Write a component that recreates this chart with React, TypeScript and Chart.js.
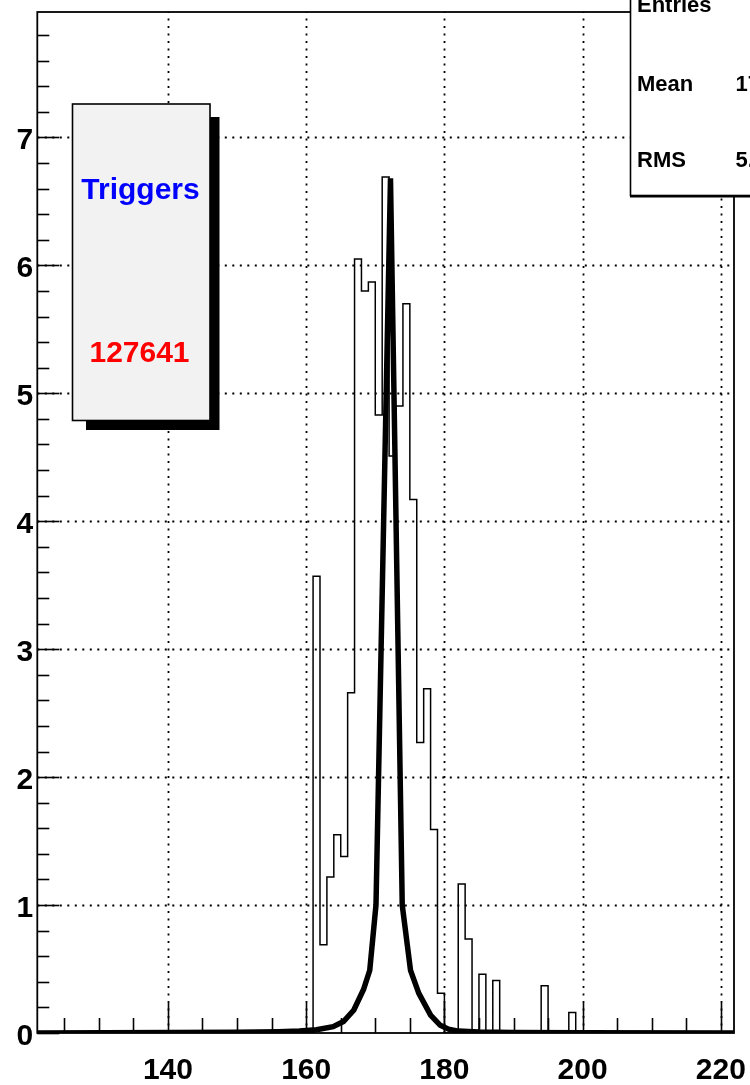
import React, { useEffect, useRef } from "react";
import { Chart, registerables } from "chart.js";

Chart.register(...registerables);

// ---- axis ranges & tick labels ----
const X_MIN = 121.1;
const X_MAX = 221.9;
const Y_MIN = 0;
const Y_MAX = 7.98;
const xTickLabels = [140, 160, 180, 200, 220];
const yTickLabels = [0, 1, 2, 3, 4, 5, 6, 7];

// ---- histogram (bins of width 1, first bin lower edge = 160) ----
const histFirstBinLow = 160;
const histCounts = [
  0, 3.57, 0.69, 1.22, 1.55, 1.38, 2.66, 6.05, 5.8, 5.87,
  4.83, 6.69, 4.51, 4.9, 5.7, 4.17, 2.27, 2.69, 1.59, 0.31,
  0, 0, 1.165, 0.735, 0, 0.46, 0, 0.41, 0, 0,
  0, 0, 0, 0, 0.37, 0, 0, 0, 0.16, 0,
];

// ---- fitted curve ----
const fitX = [121.1, 150, 156, 159, 161.5, 163.9, 165.4, 166.9, 168.3, 169.2, 170.1, 172.2, 173.9, 175.1, 176.3, 178.0, 179.4, 180.6, 182, 185, 190, 200, 221.9];
const fitY = [0, 0.005, 0.01, 0.015, 0.025, 0.05, 0.09, 0.18, 0.34, 0.49, 1.0, 6.68, 1.0, 0.49, 0.31, 0.14, 0.06, 0.03, 0.015, 0.008, 0.004, 0.002, 0];

// ---- text boxes ----
const triggersTitle = "Triggers";
const triggersValue = "127641";
const statsLabels = ["Entries", "Mean", "RMS"];
const statsValues = ["130", "171.9", "5.248"];

const FONT = '"Liberation Sans", Arial, Helvetica, sans-serif';

const rootPlugin = {
  id: "rootStyle",
  beforeDatasetsDraw(chart: any) {
    const { ctx, chartArea: a, scales } = chart;
    const xs = scales.x;
    const ys = scales.y;
    ctx.save();
    ctx.strokeStyle = "#000";

    // dotted grid
    ctx.lineWidth = 1.8;
    ctx.setLineDash([2, 5.5]);
    for (const v of xTickLabels) {
      const px = Math.round(xs.getPixelForValue(v)) + 0.5;
      ctx.beginPath();
      ctx.moveTo(px, a.bottom);
      ctx.lineTo(px, a.top);
      ctx.stroke();
    }
    for (const v of yTickLabels) {
      if (v === 0) continue;
      const py = Math.round(ys.getPixelForValue(v)) + 0.5;
      ctx.beginPath();
      ctx.moveTo(a.left, py);
      ctx.lineTo(a.right, py);
      ctx.stroke();
    }
    ctx.setLineDash([]);

    // ticks (inside the frame)
    ctx.lineWidth = 1.6;
    for (let v = 125; v <= X_MAX; v += 5) {
      const px = Math.round(xs.getPixelForValue(v)) + 0.5;
      const major = v % 20 === 0;
      ctx.beginPath();
      ctx.moveTo(px, a.bottom);
      ctx.lineTo(px, a.bottom - (major ? 30 : 15));
      ctx.stroke();
    }
    for (let i = 0; i <= 39; i++) {
      const v = i * 0.2;
      const py = Math.round(ys.getPixelForValue(v)) + 0.5;
      const major = i % 5 === 0;
      ctx.beginPath();
      ctx.moveTo(a.left, py);
      ctx.lineTo(a.left + (major ? 22 : 12), py);
      ctx.stroke();
    }

    // frame
    ctx.lineWidth = 1.8;
    ctx.strokeRect(a.left, a.top, a.right - a.left, a.bottom - a.top);
    ctx.restore();
  },
  afterDraw(chart: any) {
    const { ctx } = chart;
    ctx.save();

    // Triggers pave with shadow
    ctx.fillStyle = "#000";
    ctx.fillRect(86, 117, 133.5, 313);
    ctx.fillStyle = "#f2f2f2";
    ctx.fillRect(72.5, 104, 137.5, 316.5);
    ctx.strokeStyle = "#000";
    ctx.lineWidth = 1.6;
    ctx.strokeRect(72.5, 104, 137.5, 316.5);
    ctx.textAlign = "center";
    ctx.textBaseline = "alphabetic";
    ctx.font = `bold 30px ${FONT}`;
    ctx.fillStyle = "#0000ff";
    ctx.fillText(triggersTitle, 140.5, 199);
    ctx.fillStyle = "#ff0000";
    ctx.fillText(triggersValue, 139.5, 361.5);

    // stats box (top-right, partly outside the canvas)
    ctx.fillStyle = "#000";
    ctx.fillRect(630, 194.5, 140, 3);
    ctx.fillStyle = "#fff";
    ctx.fillRect(630, -20, 140, 215);
    ctx.strokeStyle = "#000";
    ctx.lineWidth = 1.6;
    ctx.strokeRect(630.5, -20, 140, 215.5);
    ctx.fillStyle = "#000";
    ctx.font = `bold 22px ${FONT}`;
    ctx.textAlign = "left";
    const baselines = [12, 91, 167];
    statsLabels.forEach((t, i) => ctx.fillText(t, 637, baselines[i]));
    ctx.textAlign = "right";
    statsValues.forEach((t, i) => {
      ctx.fillText(t, 790.5, baselines[i]);
    });
    ctx.restore();
  },
};

export default function App() {
  const ref = useRef<HTMLCanvasElement | null>(null);

  useEffect(() => {
    const canvas = ref.current;
    if (!canvas) return;

    const histData: { x: number; y: number }[] = [{ x: X_MIN, y: 0 }];
    histCounts.forEach((c, i) => histData.push({ x: histFirstBinLow + i, y: c }));
    histData.push({ x: histFirstBinLow + histCounts.length, y: 0 });
    histData.push({ x: X_MAX, y: 0 });

    const fitData = fitX.map((x, i) => ({ x, y: fitY[i] }));

    const chart = new Chart(canvas, {
      type: "line",
      data: {
        datasets: [
          {
            label: "fit",
            data: fitData,
            borderColor: "#000",
            borderWidth: 5.5,
            pointRadius: 0,
            tension: 0,
            fill: false,
            order: 0,
          },
          {
            label: "hist",
            data: histData,
            borderColor: "#000",
            borderWidth: 1.5,
            pointRadius: 0,
            stepped: true,
            fill: false,
            order: 1,
          },
        ],
      },
      options: {
        responsive: false,
        animation: false,
        devicePixelRatio: 1,
        events: [],
        layout: { padding: { top: 12, right: 16, left: 0, bottom: 0 } },
        plugins: {
          legend: { display: false },
          tooltip: { enabled: false },
          title: { display: false },
        },
        scales: {
          x: {
            type: "linear",
            min: X_MIN,
            max: X_MAX,
            grid: { display: false, drawTicks: false },
            border: { display: false },
            afterBuildTicks: (s: any) => {
              s.ticks = xTickLabels.map((v) => ({ value: v }));
            },
            afterFit: (s: any) => {
              s.height = 52;
              s.paddingLeft = 0;
              s.paddingRight = 0;
            },
            ticks: {
              font: { family: FONT, size: 30, weight: "bold" },
              color: "#000",
              padding: 20,
              maxRotation: 0,
              autoSkip: false,
            },
          },
          y: {
            type: "linear",
            min: Y_MIN,
            max: Y_MAX,
            grid: { display: false, drawTicks: false },
            border: { display: false },
            afterBuildTicks: (s: any) => {
              s.ticks = yTickLabels.map((v) => ({ value: v }));
            },
            afterFit: (s: any) => {
              s.width = 37.3;
              s.paddingTop = 0;
              s.paddingBottom = 0;
            },
            ticks: {
              font: { family: FONT, size: 30, weight: "bold" },
              color: "#000",
              padding: 4,
              labelOffset: 3.5,
              autoSkip: false,
            },
          },
        },
      } as any,
      plugins: [rootPlugin],
    });

    return () => chart.destroy();
  }, []);

  return (
    <div style={{ position: "fixed", left: 0, top: 0, width: 750, height: 1085, background: "#fff" }}>
      <canvas ref={ref} width={750} height={1085} style={{ display: "block", width: 750, height: 1085 }} />
    </div>
  );
}
